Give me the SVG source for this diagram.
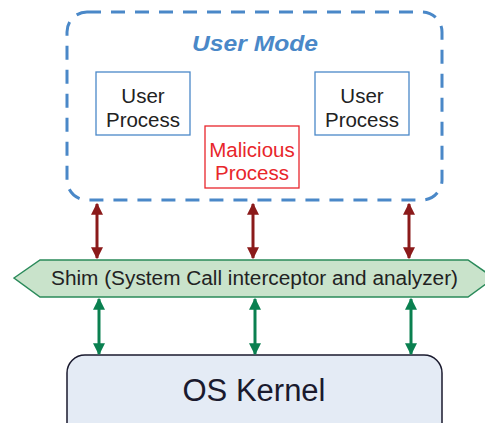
<svg xmlns="http://www.w3.org/2000/svg" width="485" height="423" viewBox="0 0 485 423">
<style>
text{font-family:"Liberation Sans",Arial,sans-serif;text-anchor:middle}
.proc{fill:#fff;stroke:#4a88c8;stroke-width:1.3}
.pt{font-size:20.5px;fill:#222}
.red{stroke:#8b1a1a;stroke-width:3;fill:none}
.grn{stroke:#0a8050;stroke-width:3;fill:none}
</style>
<defs>
<marker id="ar" viewBox="0 0 10 10" refX="9" refY="5" markerWidth="4" markerHeight="5" orient="auto-start-reverse" markerUnits="strokeWidth"><path d="M0,0 L10,5 L0,10 z" fill="#8b1a1a"/></marker>
<marker id="ag" viewBox="0 0 10 10" refX="9" refY="5" markerWidth="4" markerHeight="5" orient="auto-start-reverse" markerUnits="strokeWidth"><path d="M0,0 L10,5 L0,10 z" fill="#0a8050"/></marker>
</defs>
<g id="usermode">
<rect x="67" y="12" width="375" height="188" rx="20" fill="none" stroke="#4a88c8" stroke-width="3" stroke-dasharray="14 10"/>
<text x="255" y="50.5" font-size="22" font-weight="bold" font-style="italic" fill="#4a88c8" textLength="126" lengthAdjust="spacingAndGlyphs">User Mode</text>
</g>
<g id="up1">
<rect class="proc" x="96" y="72" width="94" height="63"/>
<text class="pt" x="143" y="102.5">User</text>
<text class="pt" x="143" y="127">Process</text>
</g>
<g id="up2">
<rect class="proc" x="315" y="72" width="94" height="63"/>
<text class="pt" x="362" y="102.5">User</text>
<text class="pt" x="362" y="127">Process</text>
</g>
<g id="mal">
<rect x="205" y="126" width="94" height="62" fill="#fff" stroke="#e8262b" stroke-width="1.3"/>
<text class="pt" x="252" y="156.5" style="fill:#e8262b">Malicious</text>
<text class="pt" x="252" y="180" style="fill:#e8262b">Process</text>
</g>
<g id="shim">
<polygon points="14,278 40,260 468,260 494,278 468,297 40,297" fill="#c9e3cb" stroke="#2a8a5a" stroke-width="1.5"/>
<text x="254.5" y="285" font-size="19.5" fill="#222" textLength="407" lengthAdjust="spacingAndGlyphs">Shim (System Call interceptor and analyzer)</text>
</g>
<g id="kernel">
<rect x="67" y="355" width="375" height="90" rx="18" fill="#e4ebf5" stroke="#1a1a2e" stroke-width="1.5"/>
<text x="254" y="400.5" font-size="31" fill="#1a1a2e">OS Kernel</text>
</g>
<g id="connectors">
<line class="red" x1="97" y1="204" x2="97" y2="258" marker-start="url(#ar)" marker-end="url(#ar)"/>
<line class="red" x1="253" y1="204" x2="253" y2="258" marker-start="url(#ar)" marker-end="url(#ar)"/>
<line class="red" x1="409" y1="204" x2="409" y2="258" marker-start="url(#ar)" marker-end="url(#ar)"/>
<line class="grn" x1="99" y1="299" x2="99" y2="354" marker-start="url(#ag)" marker-end="url(#ag)"/>
<line class="grn" x1="255" y1="299" x2="255" y2="354" marker-start="url(#ag)" marker-end="url(#ag)"/>
<line class="grn" x1="411" y1="299" x2="411" y2="354" marker-start="url(#ag)" marker-end="url(#ag)"/>
</g>
</svg>
